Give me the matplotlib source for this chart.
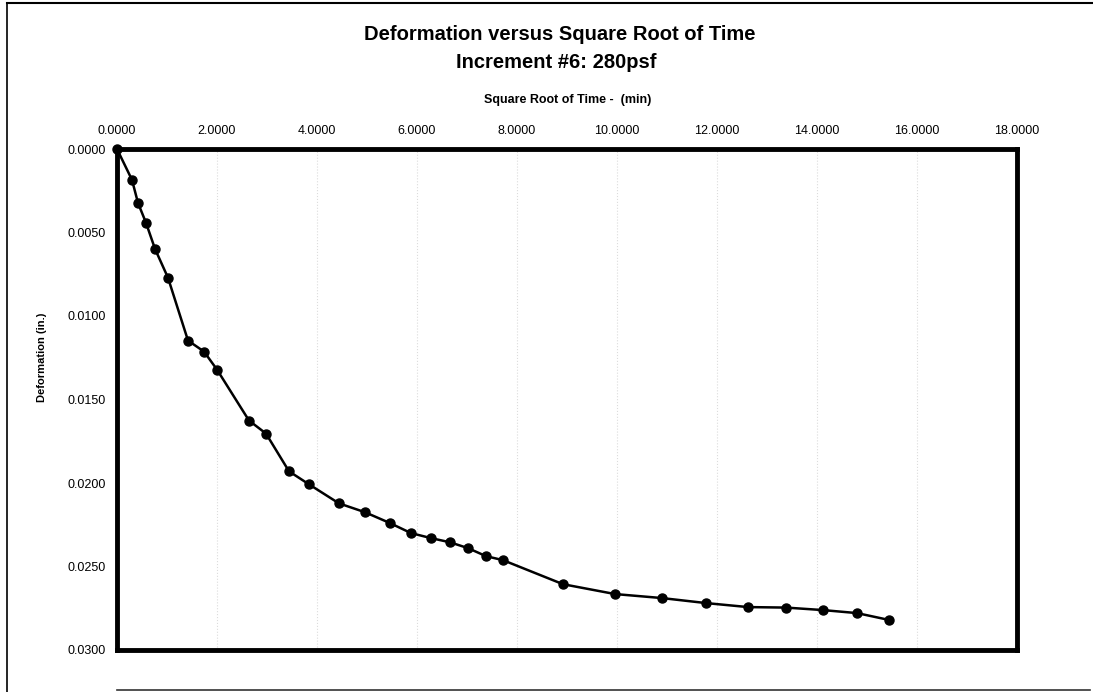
import numpy as np
import matplotlib.pyplot as plt
from matplotlib.lines import Line2D

plt.rcParams['font.family'] = ['Liberation Sans', 'DejaVu Sans']

# square root of time (min^0.5) and deformation (in.)
sqrt_time = [0.0, 0.30, 0.42, 0.58, 0.76, 1.02, 1.42, 1.74, 2.00, 2.64, 2.98,
             3.44, 3.84, 4.44, 4.96, 5.46, 5.88, 6.28, 6.66, 7.02, 7.38, 7.72,
             8.92, 9.96, 10.90, 11.78, 12.62, 13.38, 14.12, 14.80, 15.44]
deformation = [0.0, 0.00185, 0.00323, 0.00442, 0.00598, 0.00771, 0.01147,
               0.01213, 0.01321, 0.01626, 0.01704, 0.01930, 0.02008, 0.02122,
               0.02175, 0.02240, 0.02300, 0.02330, 0.02355, 0.02390, 0.02438,
               0.02462, 0.02606, 0.02665, 0.02689, 0.02719, 0.02743, 0.02746,
               0.02761, 0.02779, 0.02820]

x_ticks = np.arange(0, 18.01, 2.0)
y_ticks = np.arange(0, 0.03001, 0.005)

W, H = 1093, 692
fig = plt.figure(figsize=(W/100, H/100), dpi=100)
ax = fig.add_axes([117/W, 1-650/H, 900/W, 501/H])

ax.plot(sqrt_time, deformation, color='black', lw=1.8, marker='o',
        markersize=6.5, markerfacecolor='black', markeredgecolor='black',
        clip_on=False, zorder=3)

ax.set_xlim(0, 18)
ax.set_ylim(0.03, 0)
ax.set_xticks(x_ticks)
ax.set_yticks(y_ticks)
ax.set_xticklabels(['%.4f' % v for v in x_ticks])
ax.set_yticklabels(['%.4f' % v for v in y_ticks])
ax.xaxis.tick_top()
ax.tick_params(axis='x', length=0, pad=9, labelsize=9)
ax.tick_params(axis='y', length=0, pad=8, labelsize=9)
ax.grid(axis='x', color='#dcdcdc', linestyle=':', lw=0.8)

for s in ax.spines.values():
    s.set_linewidth(3.5)
    s.set_color('black')

ax.set_ylabel('Deformation (in.)', fontsize=8, fontweight='bold')
ax.yaxis.set_label_coords(-0.078, 0.584)

fig.text(560/W, 1-34/H, 'Deformation versus Square Root of Time',
         ha='center', va='center', fontsize=14.5, fontweight='bold')
fig.text(556/W, 1-63/H, 'Increment #6: 280psf',
         ha='center', va='center', fontsize=14.5, fontweight='bold')
fig.text(568/W, 1-100/H, 'Square Root of Time -  (min)',
         ha='center', va='center', fontsize=9, fontweight='bold')

# outer chart-area border
fig.add_artist(Line2D([7/W, 7/W], [0, 1-3/H], color='black', lw=1.2))
fig.add_artist(Line2D([7/W, 1], [1-3/H, 1-3/H], color='black', lw=1.5))
fig.add_artist(Line2D([117/W, 1090/W], [1-690/H, 1-690/H],
                      color='#333333', lw=1.2))

fig.savefig('out.png', dpi=100)
